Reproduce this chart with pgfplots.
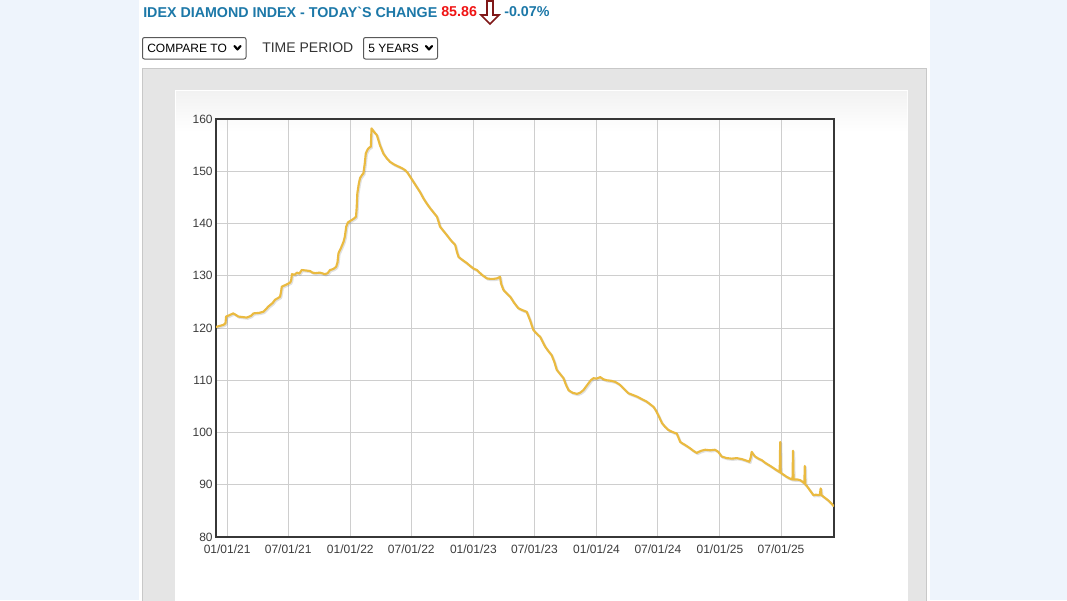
\documentclass[border=0pt]{standalone}
\usepackage{fontspec}
\setmainfont{Liberation Sans}
\usepackage{pgfplots}
\usepackage{pgfplotstable}
\pgfplotsset{compat=1.18}
\definecolor{pagebg}{RGB}{238,244,252}
\definecolor{panelgray}{RGB}{229,229,229}
\definecolor{panelborder}{RGB}{200,200,200}
\definecolor{cardtop}{RGB}{242,242,242}
\definecolor{titleblue}{RGB}{28,120,168}
\definecolor{valred}{RGB}{240,20,20}
\definecolor{arrowred}{RGB}{128,24,24}
\definecolor{gridgray}{RGB}{206,206,206}
\definecolor{axisgray}{RGB}{55,55,55}
\definecolor{labelgray}{RGB}{60,60,60}
\definecolor{linegold}{RGB}{234,186,64}

\pgfplotstableread{
day value
-33 120.2
-22 120.4
-11 120.6
-5 120.9
-3 122.2
5 122.4
18 122.8
26 122.5
33 122.2
45 122.1
58 122.0
70 122.3
78 122.8
95 122.9
107 123.1
115 123.6
122 124.1
135 124.8
142 125.4
150 125.7
157 126.0
160 127.0
162 127.9
175 128.3
187 128.7
190 129.2
192 130.3
200 130.2
207 130.6
214 130.4
221 131.1
235 131.0
246 130.9
253 130.6
261 130.5
275 130.6
290 130.3
298 130.5
305 131.1
315 131.3
323 131.7
327 132.5
330 134.3
338 135.4
345 136.5
349 137.5
353 139.4
358 140.2
365 140.5
375 140.9
382 141.3
384 143.0
386 145.8
390 147.5
394 148.7
400 149.3
404 149.6
408 151.5
411 153.4
415 154.0
419 154.4
423 154.6
426 154.7
428 158.2
436 157.5
444 156.9
453 155.0
463 153.4
473 152.5
483 151.8
495 151.3
508 150.9
518 150.6
528 150.2
535 149.7
542 149.0
552 148.0
562 147.0
572 146.0
582 144.8
592 143.8
602 142.9
612 142.1
622 141.3
627 140.3
631 139.4
641 138.6
651 137.8
663 136.8
676 135.9
681 134.6
686 133.6
698 133.0
711 132.4
720 131.9
730 131.4
740 131.1
755 130.2
770 129.5
780 129.4
789 129.4
800 129.5
809 129.8
812 128.5
819 127.3
829 126.6
839 126.0
851 124.8
863 123.8
876 123.4
888 123.1
893 122.3
898 121.5
903 120.5
908 119.6
918 118.9
928 118.3
935 117.4
943 116.4
952 115.6
962 114.8
970 113.5
977 112.0
987 111.2
997 110.4
1004 109.2
1012 108.1
1024 107.6
1037 107.4
1046 107.6
1056 108.1
1064 108.8
1071 109.4
1078 110.0
1086 110.4
1095 110.3
1106 110.6
1115 110.2
1125 110.0
1138 109.9
1150 109.7
1158 109.4
1165 109.1
1177 108.3
1190 107.5
1202 107.2
1214 106.9
1229 106.4
1244 105.9
1254 105.4
1264 104.9
1271 104.2
1278 103.3
1284 102.5
1289 101.8
1298 101.1
1308 100.5
1320 100.1
1333 99.8
1338 99.0
1343 98.2
1350 97.9
1358 97.6
1365 97.3
1372 97.0
1382 96.5
1392 96.1
1405 96.5
1417 96.7
1432 96.6
1446 96.7
1456 96.3
1466 95.4
1481 95.1
1496 95.0
1511 95.1
1526 94.9
1540 94.6
1548 94.4
1552 95.2
1555 96.3
1560 95.8
1565 95.4
1575 95.0
1585 94.7
1595 94.2
1605 93.8
1615 93.4
1624 93.0
1636 92.5
1638 92.4
1639.5 98.2
1641 92.3
1650 91.9
1659 91.5
1668 91.2
1676 91.0
1677.5 96.5
1679 91.0
1690 91.0
1698 90.9
1705 90.6
1711 90.3
1712.5 93.6
1714 90.0
1718 89.8
1728 88.9
1738 88.0
1745 88.1
1753 88.0
1757 88.1
1759.5 89.3
1762 88.0
1766 87.8
1774 87.4
1782 87.0
1790 86.5
1799 85.86
}\idexdata

\begin{document}
\begin{tikzpicture}
\begin{scope}[x=0.75pt,y=-0.75pt]
\path[use as bounding box] (0,0) rectangle (1067,600);
\fill[pagebg] (0,0) rectangle (1067,600);
\fill[white] (139,0) rectangle (930,600);
\filldraw[fill=panelgray, draw=panelborder, line width=0.75pt] (142,68) rectangle (926,601);
\fill[white] (175,90) rectangle (908,601);
\shade[top color=cardtop, bottom color=white] (176,91) rectangle (907,132);
% header
\node[anchor=west, inner sep=0pt, font=\fontsize{10.7}{12}\selectfont\bfseries, text=titleblue] at (143,12)
  {IDEX DIAMOND INDEX - TODAY\textasciigrave S CHANGE};
\node[anchor=west, inner sep=0pt, font=\fontsize{10.7}{12}\selectfont\bfseries, text=valred] at (441,12) {85.86};
\filldraw[fill=white, draw=arrowred, line width=1.2pt, line join=miter]
  (487,1) -- (493,1) -- (493,15) -- (499,15) -- (490,24) -- (481,15) -- (487,15) -- cycle;
\node[anchor=west, inner sep=0pt, font=\fontsize{10.7}{12}\selectfont\bfseries, text=titleblue] at (504,12) {-0.07\%};
% dropdowns
\filldraw[fill=white, draw=black!65, line width=0.75pt, rounded corners=1.5pt] (142.5,37.5) rectangle (246,59);
\node[anchor=west, inner sep=0pt, font=\fontsize{9}{10}\selectfont] at (147,48) {COMPARE TO};
\draw[line width=1.6pt, line cap=round, line join=round] (234.5,46) -- (237.5,49.5) -- (240.5,46);
\node[anchor=west, inner sep=0pt, font=\fontsize{10.5}{12}\selectfont, text=black!80] at (262,48) {TIME PERIOD};
\filldraw[fill=white, draw=black!65, line width=0.75pt, rounded corners=1.5pt] (363.5,37.5) rectangle (437.5,59);
\node[anchor=west, inner sep=0pt, font=\fontsize{9}{10}\selectfont] at (368,48) {5 YEARS};
\draw[line width=1.6pt, line cap=round, line join=round] (426,46) -- (429,49.5) -- (432,46);
\end{scope}
\begin{axis}[
  at={(162pt,-402.75pt)}, anchor=south west,
  scale only axis, width=463.5pt, height=313.5pt,
  xmin=-33, xmax=1799, ymin=80, ymax=160,
  xtick={0,181,365,546,730,911,1095,1277,1461,1642},
  xticklabels={01/01/21,07/01/21,01/01/22,07/01/22,01/01/23,07/01/23,01/01/24,07/01/24,01/01/25,07/01/25},
  ytick={80,90,...,160},
  major tick length=0pt,
  grid=major,
  major grid style={draw=gridgray, line width=0.75pt},
  axis line style={draw=axisgray, line width=1.4pt},
  tick label style={font=\fontsize{9}{10}\selectfont, text=labelgray},
  /pgf/number format/assume math mode=true,
  yticklabel style={xshift=1pt},
  xticklabel style={yshift=-2pt},
]
\addplot[draw=black, opacity=0.12, line width=1.6pt, xshift=0.8pt, yshift=-0.9pt, line join=round] table[x=day,y=value] {\idexdata};
\addplot[draw=linegold, line width=1.6pt, line join=round] table[x=day,y=value] {\idexdata};
\end{axis}
\end{tikzpicture}
\end{document}
